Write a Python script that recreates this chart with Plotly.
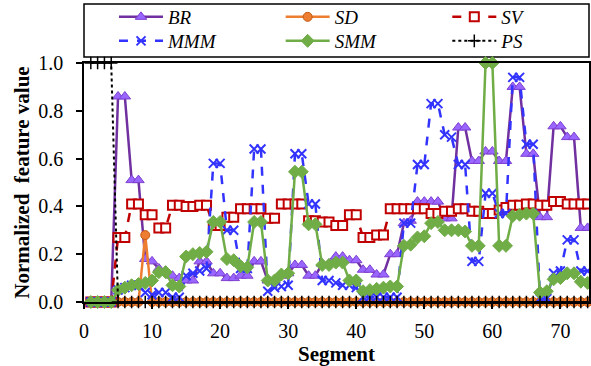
import plotly.graph_objects as go

segments = list(range(1, 75))

BR = [0, 0, 0, 0, 0.86, 0.86, 0.51, 0.51, 0.18, 0.17,
      0.14, 0.13, 0.11, 0.10, 0.09, 0.09, 0.17, 0.17, 0.12, 0.12,
      0.10, 0.10, 0.11, 0.11, 0.17, 0.17, 0.09, 0.09, 0.11, 0.12,
      0.155, 0.155, 0.11, 0.11, 0.16, 0.16, 0.19, 0.19, 0.175, 0.175,
      0.135, 0.135, 0.115, 0.115, 0.20, 0.20, 0.33, 0.34, 0.42, 0.42,
      0.42, 0.42, 0.35, 0.35, 0.73, 0.73, 0.59, 0.59, 0.63, 0.63,
      0.59, 0.59, 0.90, 0.90, 0.62, 0.62, 0.355, 0.355, 0.735, 0.735,
      0.69, 0.69, 0.31, 0.31]

SD = [0, 0, 0, 0, 0, 0, 0, 0, 0.28, 0] + [0] * 64

SV = [0, 0, 0, 0, 0.27, 0.27, 0.41, 0.41, 0.365, 0.365,
      0.31, 0.31, 0.405, 0.405, 0.40, 0.40, 0.405, 0.405, 0.32, 0.32,
      0.355, 0.355, 0.39, 0.39, 0.39, 0.39, 0.35, 0.35, 0.41, 0.41,
      0.41, 0.41, 0.34, 0.34, 0.335, 0.335, 0.32, 0.32, 0.365, 0.365,
      0.27, 0.27, 0.28, 0.28, 0.39, 0.39, 0.39, 0.39, 0.39, 0.39,
      0.37, 0.37, 0.38, 0.38, 0.39, 0.39, 0.38, 0.38, 0.37, 0.37,
      0.385, 0.395, 0.405, 0.405, 0.41, 0.41, 0.405, 0.405, 0.42, 0.42,
      0.41, 0.41, 0.41, 0.41]

MMM = [0, 0, 0, 0, 0.05, 0.06, 0.07, 0.07, 0.04, 0.03,
       0.04, 0.04, 0.02, 0.02, 0.11, 0.12, 0.13, 0.14, 0.58, 0.58,
       0.30, 0.30, 0.14, 0.14, 0.64, 0.64, 0.045, 0.06, 0.065, 0.07,
       0.62, 0.62, 0.41, 0.41, 0.09, 0.09, 0.08, 0.07, 0.07, 0.06,
       0.02, 0.02, 0.02, 0.02, 0.02, 0.02, 0.33, 0.33, 0.575, 0.575,
       0.83, 0.83, 0.70, 0.69, 0.575, 0.575, 0.17, 0.17, 0.455, 0.455,
       0.37, 0.37, 0.94, 0.94, 0.66, 0.66, 0.015, 0.015, 0.12, 0.13,
       0.26, 0.26, 0.13, 0.13]

SMM = [0, 0, 0, 0, 0.05, 0.06, 0.07, 0.075, 0.08, 0.09,
       0.125, 0.125, 0.07, 0.065, 0.19, 0.20, 0.205, 0.21, 0.335, 0.335,
       0.18, 0.175, 0.15, 0.145, 0.335, 0.335, 0.09, 0.09, 0.115, 0.12,
       0.545, 0.545, 0.325, 0.325, 0.155, 0.155, 0.165, 0.165, 0.09, 0.09,
       0.045, 0.05, 0.055, 0.06, 0.065, 0.065, 0.235, 0.24, 0.27, 0.275,
       0.33, 0.335, 0.30, 0.30, 0.30, 0.295, 0.235, 0.235, 1.0, 1.0,
       0.235, 0.235, 0.36, 0.365, 0.37, 0.37, 0.04, 0.045, 0.095, 0.10,
       0.12, 0.12, 0.085, 0.08]

PS = [1, 1, 1, 1] + [0] * 70

x_ticks = [0, 10, 20, 30, 40, 50, 60, 70]
y_ticks = [0.0, 0.2, 0.4, 0.6, 0.8, 1.0]

FONT = "Liberation Serif"

fig = go.Figure()

fig.add_trace(go.Scatter(
    x=segments, y=BR, name="<i>BR</i>", mode="lines+markers",
    line=dict(color="#7030A0", width=2.5), legend="legend",
    marker=dict(symbol="triangle-up", size=10, color="#9966FF",
                line=dict(color="#7F3FD0", width=1)),
    cliponaxis=False))
fig.add_trace(go.Scatter(
    x=segments, y=SD, name="<i>SD</i>", mode="lines+markers",
    line=dict(color="#ED7D31", width=2.5), legend="legend",
    marker=dict(symbol="circle", size=9, color="#ED7D31",
                line=dict(color="#C55A11", width=1)),
    cliponaxis=False))
fig.add_trace(go.Scatter(
    x=segments, y=SV, name="<i>SV</i>", mode="lines+markers",
    line=dict(color="#C00000", width=2.5, dash="dash"), legend="legend",
    marker=dict(symbol="square", size=9, color="white",
                line=dict(color="#C00000", width=2)),
    cliponaxis=False))
fig.add_trace(go.Scatter(
    x=segments, y=MMM, name="<i>MMM</i>", mode="lines+markers",
    line=dict(color="#3333FF", width=2.5, dash="dash"), legend="legend2",
    marker=dict(symbol="x-thin", size=9, color="#3333FF",
                line=dict(color="#3333FF", width=2)),
    cliponaxis=False))
fig.add_trace(go.Scatter(
    x=segments, y=SMM, name="<i>SMM</i>", mode="lines+markers",
    line=dict(color="#70AD47", width=2.5), legend="legend2",
    marker=dict(symbol="diamond", size=10, color="#70AD47",
                line=dict(color="#70AD47", width=1)),
    cliponaxis=False))
fig.add_trace(go.Scatter(
    x=segments, y=PS, name="<i>PS</i>", mode="lines+markers",
    line=dict(color="#000000", width=2, dash="dot"), legend="legend2",
    marker=dict(symbol="cross-thin", size=9, color="#000000",
                line=dict(color="#000000", width=1.5)),
    cliponaxis=False))

legend_common = dict(
    orientation="h", x=0, xanchor="left", yanchor="middle",
    borderwidth=0, bgcolor="rgba(0,0,0,0)",
    font=dict(family=FONT, size=19, color="black"),
    entrywidthmode="fraction", entrywidth=0.33,
    tracegroupgap=0, itemwidth=44, indentation=30,
)

fig.update_layout(
    width=591, height=366,
    margin=dict(l=84, r=2, t=63, b=64, autoexpand=False),
    paper_bgcolor="white", plot_bgcolor="white",
    font=dict(family=FONT, size=20, color="black"),
    showlegend=True,
    legend=dict(y=(302 - 17) / 239, **legend_common),
    legend2=dict(y=(302 - 41) / 239, **legend_common),
    shapes=[dict(type="rect", xref="paper", yref="paper",
                 x0=0, x1=1, y0=(302 - 57) / 239, y1=(302 - 4) / 239,
                 line=dict(color="black", width=1.5),
                 fillcolor="rgba(0,0,0,0)", layer="below")],
    xaxis=dict(
        range=[0, 74.2], tickvals=x_ticks, ticktext=[str(v) for v in x_ticks],
        showgrid=False, zeroline=False, showline=True, linecolor="black",
        linewidth=1.5, mirror=True, ticks="outside", ticklen=5,
        tickcolor="black", tickwidth=1.5, ticklabelstandoff=5,
        tickfont=dict(family=FONT, size=20), automargin=False,
        title=dict(text="<b>Segment</b>", font=dict(family=FONT, size=21),
                   standoff=6),
    ),
    yaxis=dict(
        range=[0, 1], tickvals=y_ticks, ticktext=[f"{v:.1f}" for v in y_ticks],
        showgrid=False, zeroline=False, showline=True, linecolor="black",
        linewidth=1.5, mirror=True, ticks="outside", ticklen=6,
        tickcolor="black", tickwidth=1.5, ticklabelstandoff=9,
        tickfont=dict(family=FONT, size=20), automargin=False,
        title=dict(text="<b>Normalized  feature value</b>",
                   font=dict(family=FONT, size=21), standoff=3),
    ),
)

fig.write_html("out.html",
               config={"displayModeBar": False},
               post_script="document.body.style.margin='0';")
